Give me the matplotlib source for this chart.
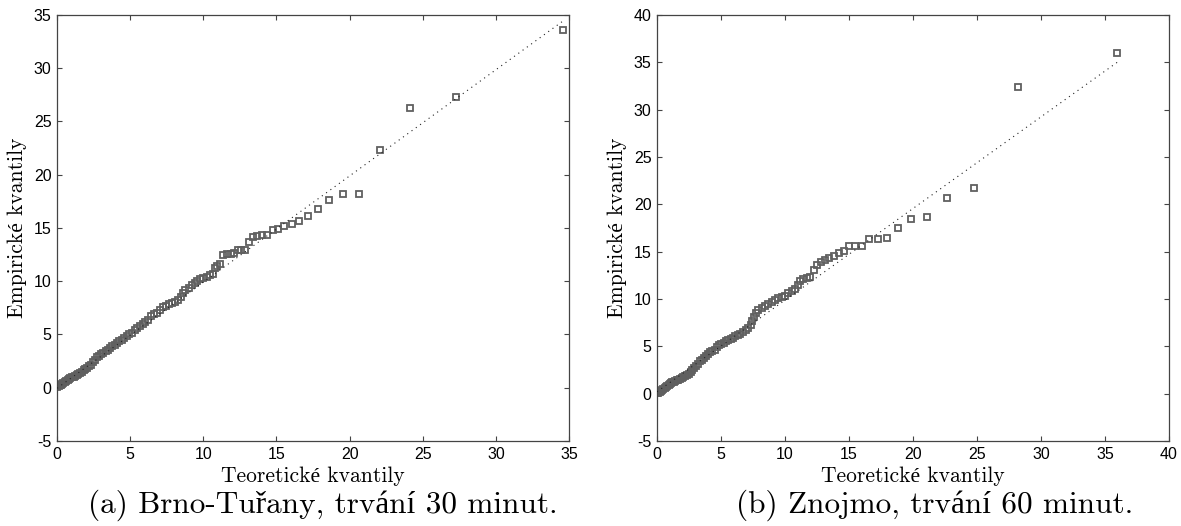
import matplotlib
matplotlib.use("Agg")
import matplotlib.pyplot as plt

# Brno-Turany, 30 min
brno_theor = [0.02, 0.1, 0.18, 0.26, 0.35, 0.44, 0.53, 0.62, 0.72, 0.82, 0.92, 1.02, 1.13, 1.24,
              1.35, 1.46, 1.58, 1.7, 1.82, 1.94, 2.07, 2.2, 2.33, 2.46, 2.6, 2.74, 2.88, 3.02,
              3.17, 3.32, 3.47, 3.62, 3.78, 3.94, 4.1, 4.26, 4.43, 4.6, 4.77, 4.94, 5.12, 5.3,
              5.48, 5.66, 5.85, 6.04, 6.23, 6.42, 6.62, 6.82, 7.02, 7.23, 7.44, 7.65, 7.87, 8.09,
              8.3, 8.45, 8.6, 8.78, 9.0, 9.2, 9.4, 9.6, 9.8, 10.0, 10.23, 10.46, 10.69, 10.8,
              10.92, 11.14, 11.32, 11.62, 11.87, 12.1, 12.35, 12.58, 12.85, 13.1, 13.38, 13.67,
              13.99, 14.33, 14.74, 15.08, 15.54, 16.04, 16.54, 17.13, 17.82, 18.6, 19.53, 20.66,
              22.1, 24.1, 27.25, 34.56]
brno_emp = [0.1, 0.15, 0.22, 0.3, 0.38, 0.45, 0.55, 0.62, 0.7, 0.78, 0.88, 0.97, 1.05, 1.12,
            1.22, 1.32, 1.42, 1.52, 1.62, 1.72, 1.85, 2.0, 2.18, 2.38, 2.62, 2.85, 3.02, 3.15,
            3.28, 3.43, 3.58, 3.72, 3.88, 4.02, 4.18, 4.35, 4.5, 4.64, 4.82, 5.0, 5.18, 5.42,
            5.62, 5.8, 5.98, 6.15, 6.38, 6.7, 6.9, 7.05, 7.3, 7.55, 7.72, 7.88, 7.98, 8.08,
            8.2, 8.5, 8.9, 9.15, 9.38, 9.6, 9.8, 9.98, 10.18, 10.3, 10.43, 10.58, 10.72, 11.2,
            11.46, 11.62, 12.44, 12.53, 12.59, 12.68, 12.9, 12.93, 12.96, 13.66, 14.13, 14.25,
            14.31, 14.34, 14.84, 14.93, 15.19, 15.38, 15.63, 16.1, 16.82, 17.63, 18.22, 18.22,
            22.3, 26.3, 27.3, 33.6]
brno_ref_x = [0.0, 34.56]
brno_ref_y = [-0.05, 34.4]

# Znojmo, 60 min
znojmo_theor = [0.02, 0.1, 0.2, 0.3, 0.4, 0.5, 0.6, 0.7, 0.8, 0.9, 1.0, 1.1, 1.2, 1.32, 1.44,
                1.56, 1.68, 1.8, 1.93, 2.06, 2.2, 2.34, 2.48, 2.62, 2.76, 2.9, 3.05, 3.2, 3.36,
                3.52, 3.68, 3.84, 4.0, 4.16, 4.33, 4.5, 4.66, 4.84, 5.02, 5.2, 5.38, 5.56, 5.75,
                5.94, 6.13, 6.32, 6.52, 6.72, 6.92, 7.12, 7.32, 7.45, 7.55, 7.7, 7.92, 8.18, 8.44,
                8.7, 8.96, 9.22, 9.48, 9.74, 10.0, 10.26, 10.52, 10.78, 11.04, 11.17, 11.43, 11.69,
                11.95, 12.24, 12.53, 12.79, 13.1, 13.44, 13.8, 14.2, 14.59, 15.0, 15.5, 16.0, 16.6,
                17.25, 17.95, 18.85, 19.85, 21.09, 22.66, 24.8, 28.2, 35.96]
znojmo_emp = [0.05, 0.12, 0.2, 0.3, 0.42, 0.52, 0.62, 0.75, 0.85, 0.95, 1.05, 1.12, 1.18, 1.25,
              1.32, 1.4, 1.48, 1.58, 1.68, 1.78, 1.88, 2.0, 2.12, 2.3, 2.5, 2.72, 2.95, 3.18, 3.4,
              3.6, 3.8, 3.98, 4.18, 4.35, 4.5, 4.62, 4.98, 5.12, 5.25, 5.4, 5.55, 5.68, 5.8,
              5.92, 6.05, 6.18, 6.32, 6.52, 6.7, 6.9, 7.2, 7.7, 8.14, 8.5, 8.85, 9.03, 9.27,
              9.48, 9.73, 9.9, 10.08, 10.22, 10.36, 10.6, 10.82, 11.03, 11.49, 11.91, 12.09, 12.23,
              12.3, 13.07, 13.6, 13.89, 14.13, 14.38, 14.59, 14.83, 15.08, 15.6, 15.6, 15.6, 16.35,
              16.31, 16.42, 17.45, 18.5, 18.67, 20.64, 21.7, 32.4, 36.02]
znojmo_ref_x = [0.0, 35.96]
znojmo_ref_y = [0.2, 35.0]

captions = ["(a) Brno-Tuřany, trvání 30 minut.", "(b) Znojmo, trvání 60 minut."]
xlabel = "Teoretické kvantily"
ylabel = "Empirické kvantily"

plt.rcParams['axes.unicode_minus'] = False
serif = ['cmr10', 'Liberation Serif', 'DejaVu Serif']
sans = ['Liberation Sans', 'DejaVu Sans']
axcol = '#444444'

fig = plt.figure(figsize=(11.81, 5.26), dpi=100)
ax1 = fig.add_axes([0.0483, 0.1616, 0.4335, 0.81])
ax2 = fig.add_axes([0.5563, 0.1616, 0.4335, 0.81])

panels = [
    (ax1, brno_theor, brno_emp, brno_ref_x, brno_ref_y, (0, 35), (-5, 35)),
    (ax2, znojmo_theor, znojmo_emp, znojmo_ref_x, znojmo_ref_y, (0, 40), (-5, 40)),
]

for ax, xs, ys, rx, ry, xl, yl in panels:
    ax.plot(xs, ys, ls='none', marker='s', markersize=4.9, markerfacecolor='none',
            markeredgecolor='#606060', markeredgewidth=1.3, zorder=2)
    ax.plot(rx, ry, color='#222222', lw=0.8, dashes=(1, 3.75), zorder=3)
    ax.set_xlim(*xl)
    ax.set_ylim(*yl)
    ax.set_xticks(range(xl[0], xl[1] + 1, 5))
    ax.set_yticks(range(yl[0], yl[1] + 1, 5))
    ax.tick_params(direction='in', top=True, right=True, length=3.6, width=0.8,
                   color=axcol, labelsize=11.5, pad=4)
    for lab in ax.get_xticklabels() + ax.get_yticklabels():
        lab.set_family(sans)
    for sp in ax.spines.values():
        sp.set_color(axcol)
        sp.set_linewidth(0.9)
    ax.set_xlabel(xlabel, family=serif, fontsize=15.5, labelpad=3.5)
    ax.set_ylabel(ylabel, family=serif, fontsize=15.5, labelpad=5)

fig.text(0.2735, 0.025, captions[0], family=serif, fontsize=22.5, ha='center', va='baseline')
fig.text(0.791, 0.025, captions[1], family=serif, fontsize=22.5, ha='center', va='baseline')

fig.savefig('out.png', dpi=100)
